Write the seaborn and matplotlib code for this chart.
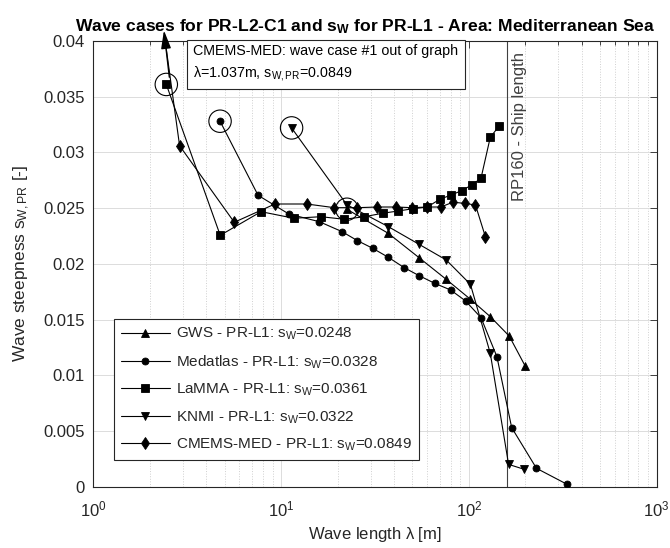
import numpy as np
import pandas as pd
import matplotlib
matplotlib.use("Agg")
import matplotlib.pyplot as plt
import seaborn as sns
from matplotlib.ticker import FixedLocator, FuncFormatter, LogLocator, NullFormatter

# ---------------- data ----------------
gws_lambda = [22.4, 37.2, 54.3, 75.7, 101.9, 130, 164, 199.4]
gws_s = [0.0249, 0.02274, 0.02055, 0.01861, 0.01682, 0.01526, 0.01352, 0.01083]

medatlas_lambda = [4.73, 7.54, 11.0, 16.0, 21.1, 25.5, 30.7, 37.2, 45.2, 54.3, 65.8, 80, 96, 116, 141, 169, 229, 331]
medatlas_s = [0.0328, 0.02615, 0.02447, 0.02378, 0.02289, 0.02208, 0.0214, 0.02059, 0.01966, 0.01894,
              0.01825, 0.01765, 0.01667, 0.01517, 0.01167, 0.0053, 0.00165, 0.00024]

lamma_lambda = [2.447, 4.74, 7.82, 11.7, 16.3, 21.7, 27.8, 34.7, 42.0, 50.5, 60.1, 69.9, 80.5, 91.6, 103.6, 116, 130, 145]
lamma_s = [0.0361, 0.02256, 0.02468, 0.02409, 0.02423, 0.0240, 0.02423, 0.02454, 0.02474, 0.02495,
           0.0251, 0.02579, 0.02618, 0.02657, 0.02708, 0.02768, 0.03136, 0.03237]

knmi_lambda = [11.37, 22.4, 37.2, 54.3, 75.7, 101.9, 130, 162.7, 197]
knmi_s = [0.0322, 0.0253, 0.02334, 0.02175, 0.02035, 0.01816, 0.01197, 0.0020, 0.00156]

cmems_lambda = [1.037, 2.88, 5.63, 9.27, 13.7, 19.2, 25.5, 32.6, 40.9, 50.0, 60.1, 70.8, 82.2, 94.8, 108.4, 122.4]
cmems_s = [0.0849, 0.0306, 0.02373, 0.02537, 0.02537, 0.02504, 0.02504, 0.0251, 0.0251, 0.02504,
           0.0251, 0.0251, 0.02553, 0.02543, 0.02528, 0.02244]

series_names = ["GWS", "Medatlas", "LaMMA", "KNMI", "CMEMS-MED"]
series_sw = ["0.0248", "0.0328", "0.0361", "0.0322", "0.0849"]
series_markers = ["^", "o", "s", "v", "d"]
series_lambda = [gws_lambda, medatlas_lambda, lamma_lambda, knmi_lambda, cmems_lambda]
series_s = [gws_s, medatlas_s, lamma_s, knmi_s, cmems_s]

# circled maximum points
circ_lambda = [22.4, 4.73, 2.447, 11.37]
circ_s = [0.0249, 0.0328, 0.0361, 0.0322]

ship_length = 160
y_ticks = [0, 0.005, 0.01, 0.015, 0.02, 0.025, 0.03, 0.035, 0.04]

# ---------------- style ----------------
sns.set_style("white")
plt.rcParams["font.family"] = ["Liberation Sans", "DejaVu Sans"]
plt.rcParams["mathtext.fontset"] = "custom"
plt.rcParams["mathtext.rm"] = "Liberation Sans"
plt.rcParams["mathtext.it"] = "Liberation Sans"
plt.rcParams["mathtext.bf"] = "Liberation Sans:bold"

dark = "#262626"
fig = plt.figure(figsize=(6.7, 5.48), dpi=100)
ax = fig.add_axes([0.1393, 0.1119, 0.8408, 0.8133])

msizes = {"^": 5.2, "o": 5.0, "s": 5.2, "v": 5.2, "d": 6.3}
for name, sw, mk, lx, ly in zip(series_names, series_sw, series_markers, series_lambda, series_s):
    df = pd.DataFrame({"lam": lx, "s": ly})
    sns.lineplot(data=df, x="lam", y="s", ax=ax, sort=False, color="black", lw=0.8,
                 marker=mk, markersize=msizes[mk], markeredgecolor="black", markerfacecolor="black",
                 markeredgewidth=0.6, label=f"{name} - PR-L1: $s_W$={sw}", zorder=3)

# circles around max points
sns.scatterplot(x=circ_lambda, y=circ_s, ax=ax, s=260, facecolor="none", edgecolor="black",
                linewidth=0.8, marker="o", legend=False, zorder=4)

ax.set_xscale("log")
ax.set_xlim(1, 1000)
ax.set_ylim(0, 0.04)

# ship length line
ax.axvline(ship_length, color="#404040", lw=0.8, zorder=2)
ax.text(186, 0.0256, "RP160 - Ship length", rotation=90, ha="center", va="bottom",
        fontsize=12, color="#404040")

# arrow for out-of-graph case
ax.annotate("", xy=(2.368, 0.0412), xytext=(2.55, 0.0365),
            arrowprops=dict(arrowstyle="-|>,head_length=1.1,head_width=0.3", color="black", lw=1.0),
            annotation_clip=False, zorder=6)
fig.text(193 / 670, 1 - 44 / 548, "CMEMS-MED: wave case #1 out of graph\n$\\lambda$=1.037m, $s_{W,PR}$=0.0849",
         ha="left", va="top", fontsize=10.3, color="black", linespacing=1.45,
         bbox=dict(boxstyle="square,pad=0.45", facecolor="white", edgecolor=dark, lw=0.8), zorder=7)

# ticks and grid
ax.yaxis.set_major_locator(FixedLocator(y_ticks))
ax.yaxis.set_major_formatter(FuncFormatter(lambda v, p: f"{v:g}"))
ax.xaxis.set_major_locator(LogLocator(base=10, numticks=10))
ax.xaxis.set_minor_locator(LogLocator(base=10, subs=np.arange(2, 10), numticks=20))
ax.xaxis.set_minor_formatter(NullFormatter())
ax.tick_params(axis="both", which="both", direction="in", top=True, right=True, colors=dark,
               labelsize=12, width=0.6)
ax.tick_params(axis="both", which="major", length=5)
ax.tick_params(axis="x", which="minor", length=3)
ax.tick_params(axis="x", which="major", pad=9)
ax.tick_params(axis="y", which="major", pad=6)
ax.grid(True, which="major", color="#dcdcdc", lw=0.7, ls="-", zorder=0)
ax.grid(True, which="minor", axis="x", color="#d0d0d0", lw=0.7, ls=":", zorder=0)
for sp in ax.spines.values():
    sp.set_color(dark)
    sp.set_linewidth(0.8)
ax.set_axisbelow(True)

ax.set_xlabel("Wave length $\\lambda$ [m]", fontsize=12, color=dark, labelpad=4)
ax.set_ylabel("Wave steepness $s_{W,PR}$ [-]", fontsize=12.5, color=dark, labelpad=8)
ax.set_title("Wave cases for PR-L2-C1 and $\\mathbf{s_W}$ for PR-L1 - Area: Mediterranean Sea",
             fontsize=12.6, fontweight="bold", color="black", pad=7, x=0.482)

leg = ax.legend(loc="upper left", bbox_to_anchor=(0.0367, 0.376), borderaxespad=0, fontsize=11,
                frameon=True, fancybox=False, edgecolor=dark, framealpha=1, handlelength=3.2,
                handletextpad=0.4, labelspacing=0.72, borderpad=0.45)
leg.get_frame().set_linewidth(0.8)
leg.set_zorder(8)

fig.savefig("out.png", dpi=100)
